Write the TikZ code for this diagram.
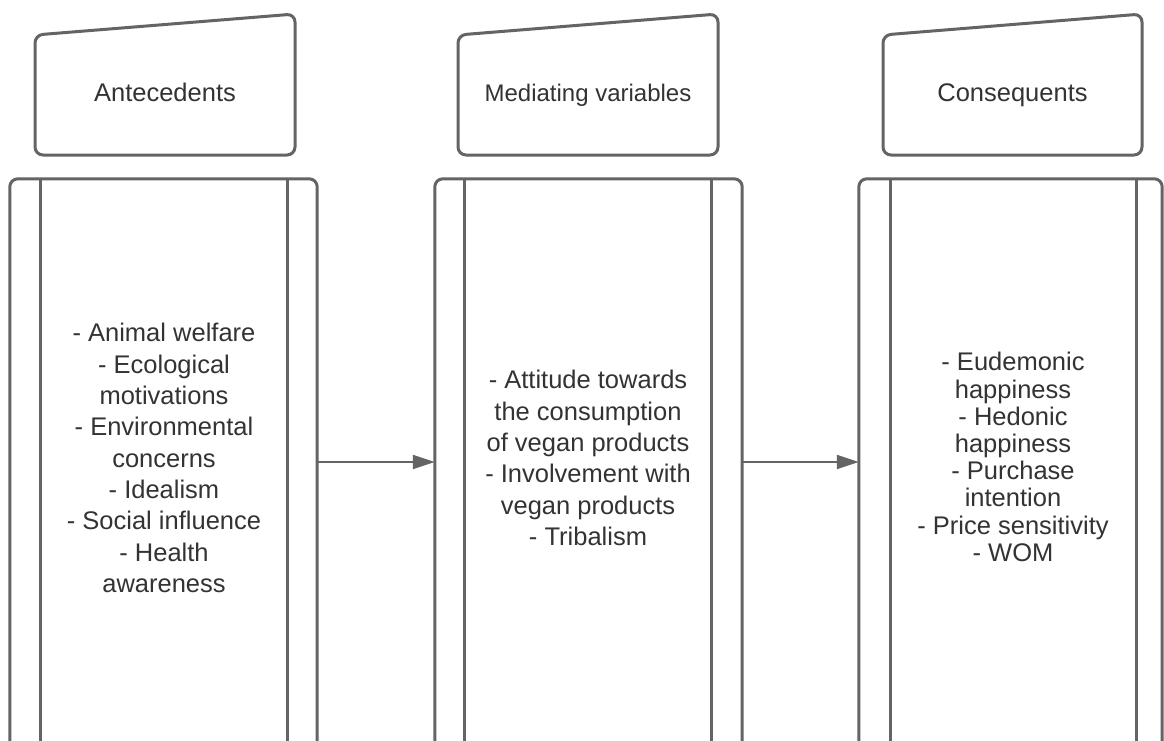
\documentclass[tikz,border=0pt]{standalone}
\usepackage{fontspec}
\setmainfont{Liberation Sans}
\usetikzlibrary{arrows.meta}
\definecolor{edge}{HTML}{646464}
\definecolor{ink}{HTML}{333333}
\begin{document}
\begin{tikzpicture}[x=1pt,y=-1pt,
  outline/.style={draw=edge, line width=3pt, rounded corners=8pt, line join=round},
  rule/.style={draw=edge, line width=3pt},
  title/.style={anchor=base, inner sep=0pt, text=ink, font=\fontsize{25.5}{30}\selectfont},
  column/.style={minimum height=566pt, inner sep=0pt},
  items/.style={inner sep=0pt, align=center, text=ink, font=\fontsize{25.5}{31.3}\selectfont},
  link/.style={draw=edge, line width=2pt, -{Triangle[length=22pt,width=14pt]}}
]
\useasboundingbox (0,0) rectangle (1164,740);
\fill[white] (0,0) rectangle (1164,740);

% tab-shaped headers
\draw[outline] (35,155) -- (35,35) -- (295,14) -- (295,155) -- cycle;
\draw[outline] (458,155) -- (458,35) -- (718,14) -- (718,155) -- cycle;
\draw[outline] (883,155) -- (883,35) -- (1142,14) -- (1142,155) -- cycle;
\node[title] (hd1) at (165,101) {Antecedents};
\node[title, font=\fontsize{24}{29}\selectfont] (hd2) at (588,101) {Mediating variables};
\node[title] (hd3) at (1012.5,101) {Consequents};

% open-bottomed columns
\node[column, minimum width=307pt] (col1) at (163.5,462) {};
\node[column, minimum width=307pt] (col2) at (588.5,462) {};
\node[column, minimum width=303pt] (col3) at (1010.5,462) {};
\foreach \c in {col1,col2,col3}
  \draw[outline] (\c.south west) -- (\c.north west) -- (\c.north east) -- (\c.south east);
\draw[rule] ([xshift=31pt]col1.north west) -- ([xshift=31pt]col1.south west);
\draw[rule] ([xshift=-30pt]col1.north east) -- ([xshift=-30pt]col1.south east);
\draw[rule] ([xshift=30pt]col2.north west) -- ([xshift=30pt]col2.south west);
\draw[rule] ([xshift=-31pt]col2.north east) -- ([xshift=-31pt]col2.south east);
\draw[rule] ([xshift=32pt]col3.north west) -- ([xshift=32pt]col3.south west);
\draw[rule] ([xshift=-26pt]col3.north east) -- ([xshift=-26pt]col3.south east);

% column contents
\node[items] (list1) at (164,458) {- Animal welfare\\- Ecological\\motivations\\- Environmental\\concerns\\- Idealism\\- Social influence\\- Health\\awareness};
\node[items] (list2) at (588,458) {- Attitude towards\\the consumption\\of vegan products\\- Involvement with\\vegan products\\- Tribalism};
\node[items, font=\fontsize{25.5}{27.2}\selectfont] (list3) at (1013,457) {- Eudemonic\\happiness\\- Hedonic\\happiness\\- Purchase\\intention\\- Price sensitivity\\- WOM};

% flow between columns
\draw[link] (col1.east) -- (col2.west);
\draw[link] (col2.east) -- (col3.west);
\end{tikzpicture}
\end{document}
